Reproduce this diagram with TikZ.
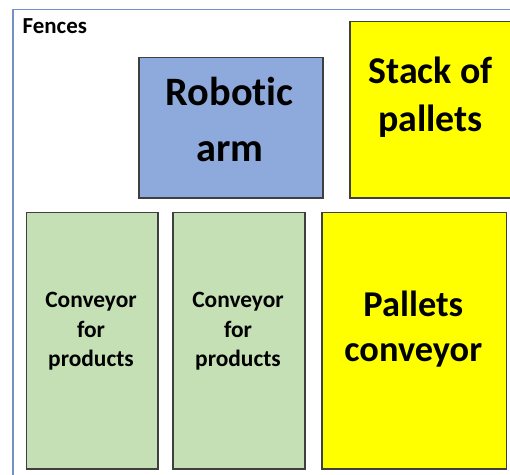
\documentclass[tikz,border=0pt]{standalone}
\usepackage{fontspec}
\setmainfont{Carlito}[Ligatures=CommonOff]
\definecolor{fenceblue}{HTML}{7391C6}
\definecolor{armblue}{HTML}{8EA9DB}
\definecolor{convgreen}{HTML}{C5E0B4}
\definecolor{palyellow}{HTML}{FFFF00}
\definecolor{edge}{HTML}{3F3F3F}
\tikzset{
  area/.style={draw=edge, line width=1.5bp, inner sep=0pt, anchor=north west},
  fence/.style={draw=fenceblue, line width=1.5bp},
  lbl/.style={inner sep=0pt, anchor=base, font=\bfseries},
}
\begin{document}
\begin{tikzpicture}[x=1bp,y=-1bp]
\useasboundingbox (0,0) rectangle (510,475);
\begin{scope}
\clip (0,0) rectangle (510,475);
\coordinate (fb) at (13,480);
\coordinate (fc) at (13,9.5);
\coordinate (fr) at (515,9.5);
\draw[fence] (fb) -- (fc) -- (fr);
\node[area, fill=armblue, minimum width=184bp, minimum height=140bp] (arm) at (138,57) {};
\node[area, fill=palyellow, minimum width=170bp, minimum height=176bp] (stack) at (349,21) {};
\node[area, fill=convgreen, minimum width=131.5bp, minimum height=256bp] (conv1) at (25.7,212) {};
\node[area, fill=convgreen, minimum width=132bp, minimum height=256bp] (conv2) at (172.3,212) {};
\node[area, fill=palyellow, minimum width=184.7bp, minimum height=256bp] (palconv) at (321,212) {};
\end{scope}
\node[lbl, anchor=base west, font=\bfseries\fontsize{23}{23}\selectfont] (fences) at (22.5,34) {Fences};
\node[lbl, font=\bfseries\fontsize{40.5}{40}\selectfont] (arm1) at (229.7,105.5) {Robotic};
\node[lbl, font=\bfseries\fontsize{40.5}{40}\selectfont] (arm2) at (229.7,161.7) {arm};
\node[lbl, font=\bfseries\fontsize{38}{38}\selectfont] (st1) at (430.5,83.3) {Stack of};
\node[lbl, font=\bfseries\fontsize{38}{38}\selectfont] (st2) at (430.5,131.7) {pallets};
\node[lbl, font=\bfseries\fontsize{23.5}{22}\selectfont] (c1a) at (91,307.7) {Conveyor};
\node[lbl, font=\bfseries\fontsize{23.5}{22}\selectfont] (c1b) at (91,337.5) {for};
\node[lbl, font=\bfseries\fontsize{23.5}{22}\selectfont] (c1c) at (91,366.8) {products};
\node[lbl, font=\bfseries\fontsize{23.5}{22}\selectfont] (c2a) at (238,307.7) {Conveyor};
\node[lbl, font=\bfseries\fontsize{23.5}{22}\selectfont] (c2b) at (238,337.5) {for};
\node[lbl, font=\bfseries\fontsize{23.5}{22}\selectfont] (c2c) at (238,366.8) {products};
\node[lbl, font=\bfseries\fontsize{36.5}{36}\selectfont] (pc1) at (413.3,316.7) {Pallets};
\node[lbl, font=\bfseries\fontsize{36.5}{36}\selectfont] (pc2) at (413.3,361) {conveyor};
\end{tikzpicture}
\end{document}
